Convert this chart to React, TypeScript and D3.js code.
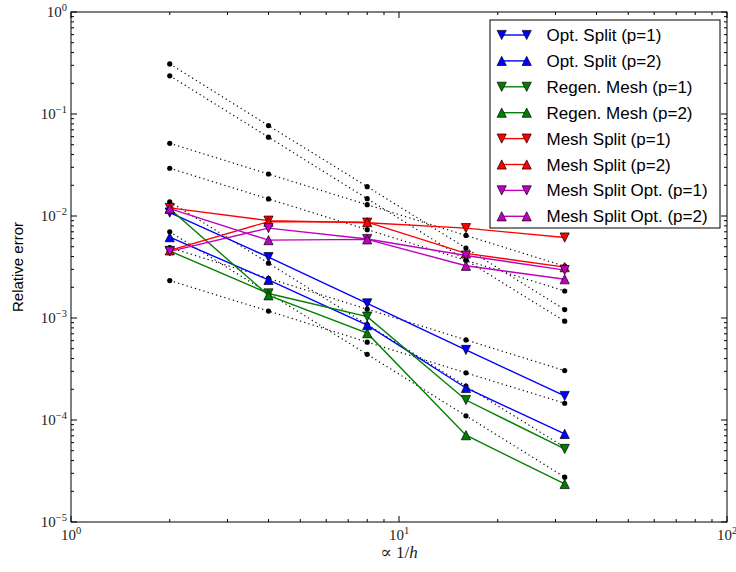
import React from "react";
import * as d3 from "d3";

// ---------- data ----------
const hInv = [2, 4, 8, 16, 32];

const seriesLabels = [
  "Opt. Split (p=1)",
  "Opt. Split (p=2)",
  "Regen. Mesh (p=1)",
  "Regen. Mesh (p=2)",
  "Mesh Split (p=1)",
  "Mesh Split (p=2)",
  "Mesh Split Opt. (p=1)",
  "Mesh Split Opt. (p=2)",
];
const seriesColors = ["#0000ff", "#0000ff", "#008000", "#008000", "#ff0000", "#ff0000", "#bf00bf", "#bf00bf"];
const seriesMarkers = ["down", "up", "down", "up", "down", "up", "down", "up"];

const optSplitP1 = [1.08e-2, 3.95e-3, 1.39e-3, 4.86e-4, 1.72e-4];
const optSplitP2 = [6.2e-3, 2.36e-3, 8.5e-4, 2.06e-4, 7.3e-5];
const regenMeshP1 = [4.54e-3, 1.74e-3, 1.03e-3, 1.57e-4, 5.2e-5];
const regenMeshP2 = [1.18e-2, 1.67e-3, 7.1e-4, 7.1e-5, 2.36e-5];
const meshSplitP1 = [1.2e-2, 9.0e-3, 8.6e-3, 7.6e-3, 6.15e-3];
const meshSplitP2 = [4.6e-3, 8.8e-3, 8.7e-3, 4.3e-3, 3.15e-3];
const meshSplitOptP1 = [4.5e-3, 7.6e-3, 5.95e-3, 4.1e-3, 2.95e-3];
const meshSplitOptP2 = [1.18e-2, 5.8e-3, 5.9e-3, 3.25e-3, 2.4e-3];

const seriesValues = [
  optSplitP1, optSplitP2, regenMeshP1, regenMeshP2,
  meshSplitP1, meshSplitP2, meshSplitOptP1, meshSplitOptP2,
];

// dotted reference lines
const refA = [0.31, 0.077, 0.0194, 4.85e-3, 1.21e-3];
const refB = [0.237, 0.0593, 0.0148, 3.7e-3, 9.3e-4];
const refC = [0.0516, 0.0258, 0.0129, 6.45e-3, 3.22e-3];
const refD = [0.0294, 0.0147, 7.35e-3, 3.68e-3, 1.84e-3];
const refE = [2.33e-3, 1.17e-3, 5.8e-4, 2.9e-4, 1.46e-4];
const refF = [4.9e-3, 2.45e-3, 1.22e-3, 6.1e-4, 3.05e-4];
const refG = [7.0e-3, 1.75e-3, 4.4e-4, 1.1e-4, 2.75e-5];
const refH = [1.38e-2, 3.45e-3, 8.6e-4, 2.15e-4, 5.4e-5];
const refLines = [refA, refB, refC, refD, refE, refF, refG, refH];

const xMajor = [1, 10, 100];
const xMajorLabels = ["0", "1", "2"];
const yMajor = [1, 0.1, 0.01, 1e-3, 1e-4, 1e-5];
const yMajorLabels = ["0", "\u22121", "\u22122", "\u22123", "\u22124", "\u22125"];

// ---------- layout ----------
const W = 736, H = 572;
const L = 71, R = 727, T = 12, B = 522;

const x = d3.scaleLog().domain([1, 100]).range([L, R]);
const y = d3.scaleLog().domain([1e-5, 1]).range([B, T]);

const xMinor: number[] = [];
for (const d of [1, 10]) for (let k = 2; k <= 9; k++) xMinor.push(d * k);
const yMinor: number[] = [];
for (const d of [1e-5, 1e-4, 1e-3, 1e-2, 1e-1]) for (let k = 2; k <= 9; k++) yMinor.push(d * k);

const MS = 4.6;
function tri(dir: string, cx: number, cy: number, r = MS) {
  if (dir === "down") return `M${cx - r},${cy - r}L${cx + r},${cy - r}L${cx},${cy + r}Z`;
  return `M${cx - r},${cy + r}L${cx + r},${cy + r}L${cx},${cy - r}Z`;
}

const line = d3.line<number>().x((_, i) => x(hInv[i])).y((v) => y(v));

const TICK_FONT = "'Liberation Serif', 'DejaVu Serif', serif";
const SANS = "'Liberation Sans', Arial, sans-serif";

export default function App() {
  const legendX = 490, legendY = 20, legendW = 230, legendH = 208;
  const rowH = 25.9;
  return (
    <svg width={W} height={H} style={{ position: "absolute", left: 0, top: 0, background: "#fff" }}>
      <rect x={0} y={0} width={W} height={H} fill="#fff" />
      <defs>
        <clipPath id="plotclip">
          <rect x={L} y={T} width={R - L} height={B - T} />
        </clipPath>
      </defs>
      <g clipPath="url(#plotclip)">
        {refLines.map((vals, i) => (
          <g key={"r" + i}>
            <path d={line(vals) || ""} fill="none" stroke="#000" strokeWidth={1.2} strokeDasharray="1.2,3.2" />
            {vals.map((v, j) => (
              <circle key={j} cx={x(hInv[j])} cy={y(v)} r={2.6} fill="#000" />
            ))}
          </g>
        ))}
        {seriesValues.map((vals, i) => (
          <g key={"s" + i}>
            <path d={line(vals) || ""} fill="none" stroke={seriesColors[i]} strokeWidth={1.4} />
            {vals.map((v, j) => (
              <path key={j} d={tri(seriesMarkers[i], x(hInv[j]), y(v))} fill={seriesColors[i]} stroke="#000" strokeWidth={0.7} />
            ))}
          </g>
        ))}
      </g>
      {/* frame */}
      <rect x={L} y={T} width={R - L} height={B - T} fill="none" stroke="#000" strokeWidth={1} />
      {/* x ticks */}
      {xMajor.map((v) => (
        <g key={"xm" + v}>
          <line x1={x(v)} x2={x(v)} y1={B} y2={B - 6} stroke="#000" />
          <line x1={x(v)} x2={x(v)} y1={T} y2={T + 6} stroke="#000" />
        </g>
      ))}
      {xMinor.map((v) => (
        <g key={"xn" + v}>
          <line x1={x(v)} x2={x(v)} y1={B} y2={B - 3} stroke="#000" />
          <line x1={x(v)} x2={x(v)} y1={T} y2={T + 3} stroke="#000" />
        </g>
      ))}
      {yMajor.map((v) => (
        <g key={"ym" + v}>
          <line x1={L} x2={L + 6} y1={y(v)} y2={y(v)} stroke="#000" />
          <line x1={R} x2={R - 6} y1={y(v)} y2={y(v)} stroke="#000" />
        </g>
      ))}
      {yMinor.map((v) => (
        <g key={"yn" + v}>
          <line x1={L} x2={L + 3} y1={y(v)} y2={y(v)} stroke="#000" />
          <line x1={R} x2={R - 3} y1={y(v)} y2={y(v)} stroke="#000" />
        </g>
      ))}
      {/* tick labels */}
      {xMajor.map((v, i) => (
        <text key={"xl" + v} x={x(v)} y={540} textAnchor="middle" fontFamily={TICK_FONT} fontSize={15} fill="#222">
          10<tspan dy={-6} fontSize={10.5}>{xMajorLabels[i]}</tspan>
        </text>
      ))}
      {yMajor.map((v, i) => (
        <text key={"yl" + v} x={67} y={y(v) + 5} textAnchor="end" fontFamily={TICK_FONT} fontSize={15} fill="#222">
          10<tspan dy={-6} fontSize={10.5}>{yMajorLabels[i]}</tspan>
        </text>
      ))}
      {/* axis labels */}
      <text x={(L + R) / 2} y={558} textAnchor="middle" fontFamily={TICK_FONT} fontSize={17} fill="#222">
        {"\u221D 1/"}<tspan fontStyle="italic">h</tspan>
      </text>
      <text transform={`translate(23,${(T + B) / 2}) rotate(-90)`} textAnchor="middle" fontFamily={SANS} fontSize={15} fill="#000">
        Relative error
      </text>
      {/* legend */}
      <rect x={legendX} y={legendY} width={legendW} height={legendH} fill="#fff" stroke="#000" strokeWidth={1} />
      {seriesLabels.map((lab, i) => {
        const cy = 35 + i * rowH;
        return (
          <g key={"lg" + i}>
            <line x1={501.7} x2={526.7} y1={cy} y2={cy} stroke={seriesColors[i]} strokeWidth={1.4} />
            <path d={tri(seriesMarkers[i], 501.7, cy)} fill={seriesColors[i]} stroke="#000" strokeWidth={0.7} />
            <path d={tri(seriesMarkers[i], 526.7, cy)} fill={seriesColors[i]} stroke="#000" strokeWidth={0.7} />
            <text x={546.5} y={cy + 6} fontFamily={SANS} fontSize={17} fill="#000">{lab}</text>
          </g>
        );
      })}
    </svg>
  );
}
